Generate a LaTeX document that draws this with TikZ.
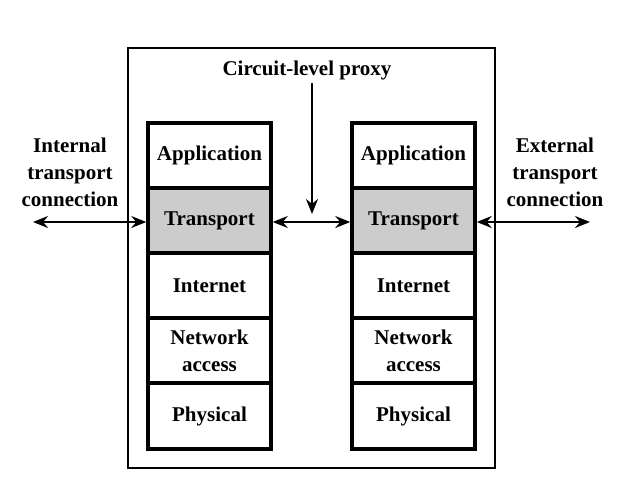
\documentclass[tikz,border=0pt]{standalone}
\usepackage{fontspec}
\setmainfont{Liberation Serif}[BoldFont={Liberation Serif Bold}]
\newfontfamily\figfont{Liberation Serif Bold}
\usetikzlibrary{arrows.meta}
\begin{document}
\begin{tikzpicture}[x=1pt,y=-1pt]
    \tikzstyle{every node}=[font=\figfont\fontsize{21}{27}\selectfont,align=center];
    \tikzstyle{layer}=[draw,line width=3.5pt,minimum width=123pt,minimum height=65pt,inner sep=0pt];
    \tikzstyle{conn}=[line width=2.2pt,{Stealth[length=15pt,width=12pt,inset=5pt]}-{Stealth[length=15pt,width=12pt,inset=5pt]}];
    \useasboundingbox (0,0) rectangle (641,490);
    % proxy box
    \node at (311.5,258) (box) [draw,line width=1.8pt,minimum width=367pt,minimum height=420pt] {};
    \node at (307,70) (prx) {Circuit-level proxy};
    % left stack
    \node at (209.5,155.5) (aL) [layer] {Application};
    \node at (209.5,220.5) (tL) [layer,fill=black!20] {Transport};
    \node at (209.5,285.5) (iL) [layer] {Internet};
    \node at (209.5,350.5) (nL) [layer] {Network\\access};
    \node at (209.5,416)   (pL) [layer,minimum height=66pt] {Physical};
    % right stack
    \node at (413.5,155.5) (aR) [layer] {Application};
    \node at (413.5,220.5) (tR) [layer,fill=black!20] {Transport};
    \node at (413.5,285.5) (iR) [layer] {Internet};
    \node at (413.5,350.5) (nR) [layer] {Network\\access};
    \node at (413.5,416)   (pR) [layer,minimum height=66pt] {Physical};
    % outside labels
    \node at (70,172) (int) {Internal\\transport\\connection};
    \node at (555,172) (ext) {External\\transport\\connection};
    \coordinate (inEnd) at (33,222);
    \coordinate (exEnd) at (590,222);
    \coordinate (prxTop) at (312,83);
    \coordinate (prxTip) at (312,214);

    \draw[conn] (inEnd) -- (tL.west |- inEnd);
    \draw[conn] (tL.east |- inEnd) -- (tR.west |- inEnd);
    \draw[conn] (tR.east |- exEnd) -- (exEnd);
    \draw[line width=2.2pt,-{Stealth[length=15pt,width=12pt,inset=5pt]}] (prxTop) -- (prxTip);
\end{tikzpicture}
\end{document}
